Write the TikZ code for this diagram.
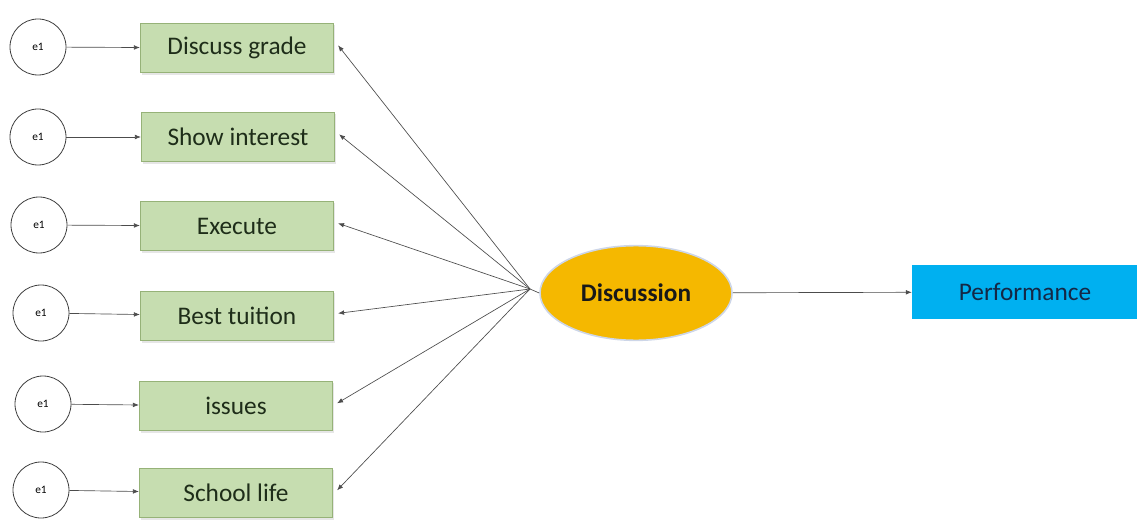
\documentclass[tikz,border=0pt]{standalone}
\usepackage{fontspec}
\setmainfont{Carlito}
\usetikzlibrary{arrows.meta,shadows,shapes.geometric}

\definecolor{boxgreen}{RGB}{198,221,176}
\definecolor{boxedge}{RGB}{150,178,120}
\definecolor{discgold}{RGB}{245,184,0}
\definecolor{discedge}{RGB}{205,214,232}
\definecolor{perfblue}{RGB}{0,176,240}
\definecolor{perftext}{RGB}{20,40,70}
\definecolor{itemtext}{RGB}{30,45,25}

\tikzset{every picture/.style={line width=0.75pt}}
\tikzset{
  errcircle/.style={circle, draw=black!75, line width=0.6pt, fill=white, minimum size=42pt, inner sep=0pt, font=\fontsize{8.5}{10}\selectfont},
  itembox/.style={rectangle, draw=boxedge, line width=0.6pt, fill=boxgreen, minimum width=145pt, minimum height=37pt, font=\fontsize{19}{21}\selectfont, text=itemtext,
    drop shadow={shadow xshift=1pt, shadow yshift=-1.5pt, opacity=0.2}},
  latentnode/.style={ellipse, draw=discedge, line width=1.2pt, fill=discgold, minimum width=144pt, minimum height=71pt, font=\fontsize{19}{21}\selectfont\bfseries, text=black!90},
  outbox/.style={rectangle, fill=perfblue, minimum width=169pt, minimum height=40pt, font=\fontsize{19}{21}\selectfont, text=perftext},
  link/.style={draw=black!70, line width=0.5pt, -{Latex[length=4.5pt,width=3.5pt]}},
}

\begin{document}
\begin{tikzpicture}[x=0.75pt,y=0.75pt,yscale=-1,xscale=1]
%set diagram left start at 0, and has height of 527
\path[use as bounding box] (0,0) rectangle (1137,527);

%Shape: Circles [error terms]
\node[errcircle] (e1) at (38,47) {e1};
\node[errcircle] (e2) at (38,137) {e1};
\node[errcircle] (e3) at (39,225) {e1};
\node[errcircle] (e4) at (41,313) {e1};
\node[errcircle] (e5) at (43,404) {e1};
\node[errcircle] (e6) at (41,490) {e1};

%Shape: Rectangles [items]
\node[itembox] (grade) at (237,48) {Discuss grade};
\node[itembox] (interest) at (238,137) {Show interest};
\node[itembox] (execute) at (237,226) {Execute};
\node[itembox] (tuition) at (237,316) {Best tuition};
\node[itembox] (issues) at (236,406) {issues};
\node[itembox] (school) at (236,493) {School life};

%Shape: Ellipse [latent]
\node[latentnode] (disc) at (636,293) {Discussion};

%Shape: Rectangle [outcome]
\node[outbox] (perf) at (1025,292) {Performance};

%Straight Lines [error to item]
\draw[link] (e1) -- (grade);
\draw[link] (e2) -- (interest);
\draw[link] (e3) -- (execute);
\draw[link] (e4) -- (tuition);
\draw[link] (e5) -- (issues);
\draw[link] (e6) -- (school);

%Straight Lines [latent to item]
\coordinate (hub) at (530,289);
\draw[link] (hub) -- ([xshift=3pt,yshift=-2pt]grade.east);
\draw[link] (hub) -- ([xshift=3pt,yshift=-2pt]interest.east);
\draw[link] (hub) -- ([xshift=3pt,yshift=-2pt]execute.east);
\draw[link] (hub) -- ([xshift=3pt,yshift=-2pt]tuition.east);
\draw[link] (hub) -- ([xshift=3pt,yshift=-2pt]issues.east);
\draw[link] (hub) -- ([xshift=3pt,yshift=-2pt]school.east);
\draw[draw=black!70, line width=0.5pt] (hub) -- (disc.west);

%Straight Lines [latent to outcome]
\draw[link] (disc) -- (perf);

\end{tikzpicture}
\end{document}
